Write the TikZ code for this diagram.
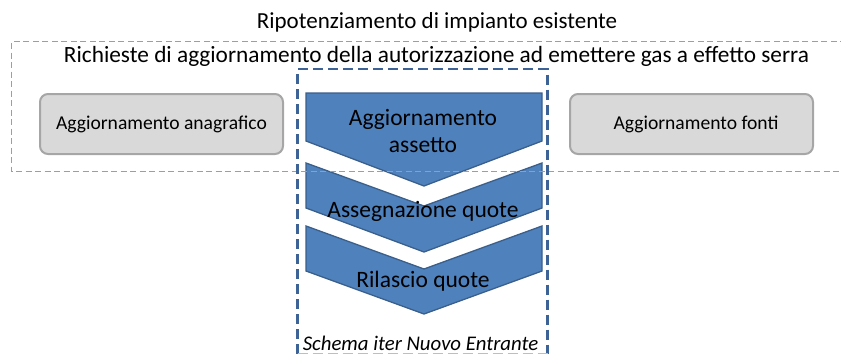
\documentclass[tikz,border=0pt]{standalone}
\usepackage{fontspec}
\setmainfont{Carlito}
\begin{document}
\begin{tikzpicture}[x=1pt,y=-1pt,
  graybox/.style={draw=black!35,line width=2pt,fill=black!15,rounded corners=8pt},
  chev/.style={draw=chevline,line width=1.3pt,fill=chevfill},
  grayframe/.style={draw=black!38,line width=1.6pt,dash pattern=on 6pt off 3.5pt},
  blueframe/.style={draw=frameblue,line width=2.4pt,dash pattern=on 10pt off 5pt},
  lbl/.style={anchor=base,inner sep=0pt,text=black}]
\definecolor{chevfill}{HTML}{4F81BD}
\definecolor{chevline}{HTML}{3A5F8B}
\definecolor{frameblue}{HTML}{3D6396}
\useasboundingbox (0,0) rectangle (841,354);
% gray rounded boxes
\draw[graybox] (40,94) rectangle (283,154);
\draw[graybox] (570,94) rectangle (813,154);
\node[lbl,font=\fontsize{19.6}{22}\selectfont] (ana) at (161.5,129.5) {Aggiornamento anagrafico};
\node[lbl,font=\fontsize{19.6}{22}\selectfont] (fon) at (696,129.5) {Aggiornamento fonti};
% chevrons
\draw[chev] (306,93) -- (542,93) -- (542,141) -- (424,186) -- (306,141) -- cycle;
\draw[chev] (306,163) -- (424,206) -- (542,163) -- (542,208) -- (424,252) -- (306,208) -- cycle;
\draw[chev] (306,226) -- (424,269) -- (542,226) -- (542,271) -- (424,314) -- (306,271) -- cycle;
\node[lbl,font=\fontsize{23.5}{28}\selectfont] (c1a) at (423,125) {Aggiornamento};
\node[lbl,font=\fontsize{23.5}{28}\selectfont] (c1b) at (423,152.7) {assetto};
\node[lbl,font=\fontsize{23.5}{28}\selectfont] (c2) at (423,217) {Assegnazione quote};
\node[lbl,font=\fontsize{23.5}{28}\selectfont] (c3) at (423,287.7) {Rilascio quote};
% frames
\draw[grayframe] (846,41.5) -- (11.5,41.5) -- (11.5,171.5) -- (846,171.5);
\draw[blueframe] (297.5,353.5) -- (297.5,69) -- (547.5,69) -- (547.5,353.5);
\draw[draw=frameblue!40,line width=1pt,dash pattern=on 10pt off 5pt] (297.5,353.8) -- (547.5,353.8);
% titles
\node[lbl,font=\fontsize{23}{26}\selectfont] (rip) at (437,28) {Ripotenziamento di impianto esistente};
\node[lbl,font=\fontsize{23.3}{26}\selectfont] (ric) at (436.5,62) {Richieste di aggiornamento della autorizzazione ad emettere gas a effetto serra};
\node[lbl,font=\fontsize{20.8}{24}\selectfont\itshape] (sch) at (420.5,350) {Schema iter Nuovo Entrante};
\end{tikzpicture}
\end{document}
